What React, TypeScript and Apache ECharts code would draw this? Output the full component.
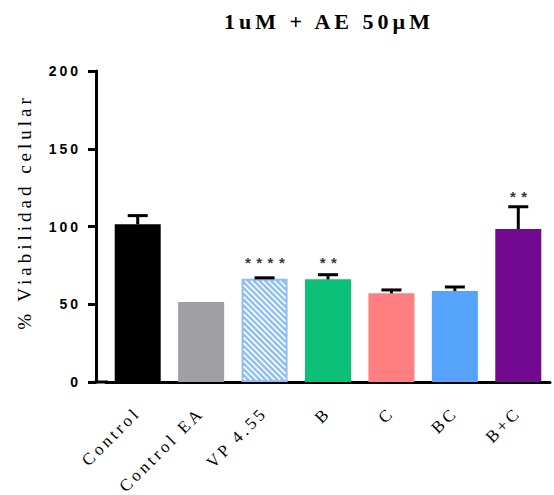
import React, { useEffect, useRef } from "react";
import * as echarts from "echarts";

const title = "1uM + AE 50µM";
const yAxisName = "% Viabilidad celular";
const categories = ["Control", "Control EA", "VP 4.55", "B", "C", "BC", "B+C"];
const means = [101.4, 51.4, 66.4, 66.0, 57.0, 58.5, 98.4];
const errors = [5.6, 0, 0.6, 3.0, 2.2, 2.6, 14.3];
const colors = ["#000000", "#a09fa4", "#8fbdf6", "#0bbf78", "#ff7f80", "#56a3fb", "#730891"];
const hatched = [false, false, true, false, false, false, false];
const stars = ["", "", "****", "**", "", "", "**"];
const starLevels = [null, null, 79, 79, null, null, 121];
const yTicks = [0, 50, 100, 150, 200];

const BAR_W = 46;
const HATCH_STEP = 5.8;
const HATCH_INSET = 2;

const css = `
body { margin: 0; }
#chart text[style*="22px"] { letter-spacing: 4px; }
#chart text[style*="19px"] { letter-spacing: 4px; }
#chart text[style*="14px"] { letter-spacing: 3px; }
#chart text[style*="17px"] { letter-spacing: 3.3px; }
#chart text[style*="15px"] { letter-spacing: 5.5px; }
`;

export default function App() {
  const ref = useRef<HTMLDivElement>(null);
  useEffect(() => {
    if (!ref.current) return;
    const chart = echarts.init(ref.current, undefined, { renderer: "svg" });
    const barData = means.map((v, i) => ({ value: v, itemStyle: { color: colors[i] } }));
    const errData = means.map((v, i) => [i, v, errors[i]]);
    const hatchData = means.map((v, i) => [i, hatched[i] ? v : 0]);
    const starData = starLevels
      .map((v, i) => (v == null ? null : { value: [i, v], label: { formatter: stars[i] } }))
      .filter((d) => d !== null);
    chart.setOption({
      animation: false,
      grid: { left: 106, right: 4, top: 71, bottom: 113 },
      xAxis: {
        type: "category",
        data: categories,
        boundaryGap: true,
        axisLine: { lineStyle: { color: "#000", width: 3 } },
        axisTick: { alignWithLabel: true, length: 9, lineStyle: { color: "#000", width: 3 } },
        axisLabel: {
          rotate: 45,
          interval: 0,
          margin: 28,
          color: "#000",
          fontFamily: "Liberation Serif",
          fontSize: 17,
        },
      },
      yAxis: {
        type: "value",
        min: yTicks[0],
        max: yTicks[yTicks.length - 1],
        interval: 50,
        offset: 10,
        axisLine: { show: true, lineStyle: { color: "#000", width: 3 } },
        axisTick: { show: true, length: 8, lineStyle: { color: "#000", width: 3 } },
        splitLine: { show: false },
        axisLabel: {
          margin: 15,
          color: "#000",
          fontFamily: "Liberation Sans",
          fontWeight: "bold",
          fontSize: 14,
        },
      },
      graphic: [
        {
          type: "line",
          shape: { x1: 94.5, y1: 382, x2: 108, y2: 382 },
          style: { stroke: "#000", lineWidth: 3 },
          z: 10,
        },
        {
          type: "text",
          x: 329,
          y: 21,
          style: {
            text: title,
            textAlign: "center",
            textVerticalAlign: "middle",
            fontFamily: "Liberation Serif",
            fontWeight: "bold",
            fontSize: 22,
            fill: "#000",
          },
        },
        {
          type: "text",
          x: 24,
          y: 212,
          rotation: Math.PI / 2,
          style: {
            text: yAxisName,
            textAlign: "center",
            textVerticalAlign: "middle",
            fontFamily: "Liberation Serif",
            fontSize: 19,
            fill: "#000",
          },
        },
      ],
      series: [
        {
          type: "bar",
          data: barData,
          barWidth: BAR_W,
          z: 2,
        },
        {
          type: "custom",
          data: hatchData,
          z: 3,
          renderItem: (params: any, api: any) => {
            const i = api.value(0);
            const v = api.value(1);
            if (!v) return null;
            const top = api.coord([i, v]);
            const bot = api.coord([i, 0]);
            const x0 = top[0] - BAR_W / 2 + HATCH_INSET;
            const x1 = top[0] + BAR_W / 2 - HATCH_INSET;
            const yt = top[1] + HATCH_INSET;
            const yb = bot[1] - HATCH_INSET;
            const children: any[] = [];
            for (let c = yt - x1; c <= yb - x0; c += HATCH_STEP) {
              const sx = Math.max(x0, yt - c);
              const ex = Math.min(x1, yb - c);
              if (ex - sx < 0.5) continue;
              children.push({
                type: "line",
                shape: { x1: sx, y1: sx + c, x2: ex, y2: ex + c },
                style: { stroke: "#ffffff", lineWidth: 1.7 },
              });
            }
            return { type: "group", children };
          },
        },
        {
          type: "custom",
          data: errData,
          z: 4,
          renderItem: (params: any, api: any) => {
            const i = api.value(0);
            const m = api.value(1);
            const e = api.value(2);
            if (!e) return null;
            const base = api.coord([i, m]);
            const top = api.coord([i, m + e]);
            const hw = 10;
            return {
              type: "group",
              children: [
                {
                  type: "line",
                  shape: { x1: base[0], y1: base[1], x2: top[0], y2: top[1] },
                  style: { stroke: "#000", lineWidth: 3 },
                },
                {
                  type: "line",
                  shape: { x1: top[0] - hw, y1: top[1], x2: top[0] + hw, y2: top[1] },
                  style: { stroke: "#000", lineWidth: 3 },
                },
              ],
            };
          },
        },
        {
          type: "scatter",
          data: starData,
          symbolSize: 0,
          z: 5,
          label: {
            show: true,
            position: "inside",
            offset: [3, 3],
            color: "#000",
            fontFamily: "Liberation Sans",
            fontWeight: "bold",
            fontSize: 15,
          },
        },
      ],
    });
    return () => chart.dispose();
  }, []);
  return (
    <>
      <style>{css}</style>
      <div id="chart" ref={ref} style={{ width: 554, height: 495 }} />
    </>
  );
}
